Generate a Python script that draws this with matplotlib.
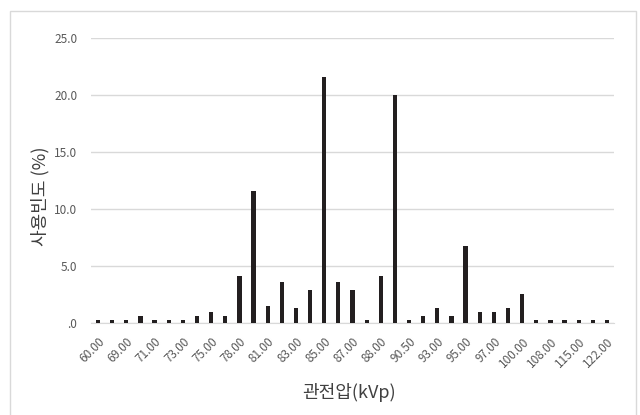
import matplotlib.pyplot as plt
import matplotlib.patches as mpatches
import numpy as np

plt.rcParams['font.family'] = ['Noto Sans CJK KR', 'DejaVu Sans']

# usage frequency (%) per tube voltage category, 37 bars
usage = [0.2, 0.2, 0.2, 0.6, 0.2, 0.2, 0.2, 0.6, 0.9, 0.6,
         4.1, 11.6, 1.5, 3.6, 1.3, 2.9, 21.6, 3.6, 2.9, 0.2,
         4.1, 20.0, 0.2, 0.6, 1.3, 0.6, 6.7, 0.9, 0.9, 1.3,
         2.5, 0.2, 0.2, 0.2, 0.2, 0.2, 0.2]
# only every other category is labelled in the original
tick_labels = ['60.00', '69.00', '71.00', '73.00', '75.00', '78.00', '81.00',
               '83.00', '85.00', '87.00', '88.00', '90.50', '93.00', '95.00',
               '97.00', '100.00', '108.00', '115.00', '122.00']
yticks = [0, 5, 10, 15, 20, 25]
ytick_labels = ['.0', '5.0', '10.0', '15.0', '20.0', '25.0']

fig = plt.figure(figsize=(6.4, 4.15), dpi=100)
ax = fig.add_axes([91 / 640, 1 - 322.7 / 415, (614 - 91) / 640, (322.7 - 38.3) / 415])

x = np.arange(len(usage))
ax.bar(x, usage, width=0.3, color='#231f20', zorder=3)

ax.set_xlim(-0.5, len(usage) - 0.5)
ax.set_ylim(0, 25)
ax.set_yticks(yticks)
ax.set_yticklabels(ytick_labels)
ax.set_xticks(x[::2])
ax.set_xticklabels(tick_labels, rotation=45, ha='right', rotation_mode='anchor')

ax.grid(axis='y', color='#d9d9d9', linewidth=1, zorder=0)
for s in ['top', 'right', 'left']:
    ax.spines[s].set_visible(False)
ax.spines['bottom'].set_color('#d9d9d9')
ax.tick_params(axis='both', length=0, labelsize=8.5, colors='#595959')
ax.tick_params(axis='y', pad=10)
ax.tick_params(axis='x', pad=9)

fig.text(349 / 640, 1 - 392 / 415, '관전압(kVp)', ha='center', va='center',
         fontsize=13, color='#404040')
fig.text(40 / 640, 1 - 196 / 415, '사용빈도 (%)', ha='center', va='center',
         rotation=90, fontsize=13, color='#404040')

# chart border (bottom edge falls outside the image)
border = mpatches.Rectangle((9.5 / 640, -0.05), (636 - 9.5) / 640, 1.05 - 11 / 415,
                            transform=fig.transFigure, fill=False,
                            edgecolor='#d9d9d9', linewidth=1)
fig.patches.append(border)

fig.savefig('out.png', dpi=100)
